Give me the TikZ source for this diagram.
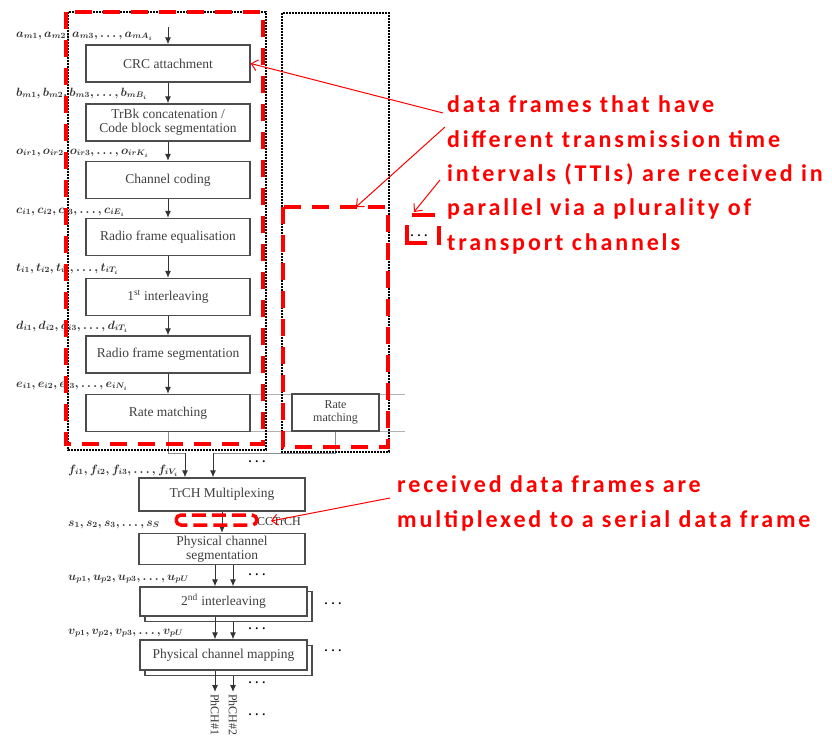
\documentclass[tikz,border=0pt]{standalone}
\usepackage{fontspec}
\usetikzlibrary{arrows.meta,calc}
\newfontfamily\annofont[LetterSpace=12]{Carlito}
\newfontfamily\boxfont{Liberation Serif}
\begin{document}
\begin{tikzpicture}[x=1pt,y=-1pt,
  blk/.style={draw=black!70, line width=1.3pt, fill=white, text=black!75,
    font=\boxfont\fontsize{13.5}{14}\selectfont, align=center, inner sep=0pt,
    minimum width=164pt, minimum height=37pt},
  lowblk/.style={blk, minimum width=166pt, minimum height=31pt},
  lbl/.style={anchor=base west, inner sep=0pt, text=black!80,
    font=\fontsize{12}{12}\selectfont\boldmath},
  arr/.style={draw=black!80, line width=1pt, -{Latex[length=7pt,width=6pt]}},
  conn/.style={draw=black!45, line width=0.8pt},
  dotsn/.style={inner sep=0pt, font=\boxfont\bfseries\fontsize{12}{12}\selectfont},
  phl/.style={rotate=-90, anchor=west, inner sep=0pt, text=black!80,
    font=\boxfont\fontsize{12}{12}\selectfont},
  dotbox/.style={draw=black, line width=2pt, dash pattern=on 1.6pt off 1.4pt},
  redbox/.style={draw=red, line width=4.5pt, dash pattern=on 17pt off 11pt},
  redseg/.style={draw=red, line width=4.5pt},
  redarr/.style={draw=red, line width=1pt, -{Straight Barb[length=6pt,width=11pt]}},
  anno/.style={anchor=base west, inner sep=0pt, text=red, align=left,
    font=\annofont\bfseries\fontsize{24}{34.3}\selectfont},
]
\useasboundingbox (0,0) rectangle (832,737);

% gray guide lines of right rate matching
\draw[draw=black!30, line width=0.6pt] (250,394) -- (405,394);
\draw[draw=black!30, line width=0.6pt] (250,431) -- (405,431);

% left chain boxes
\node[blk] (crc)  at (168,63.5)  {CRC attachment};
\node[blk] (trbk) at (168,122.5) {TrBk concatenation /\\Code block segmentation};
\node[blk] (chc)  at (168,180)   {Channel coding};
\node[blk] (rfe)  at (168,237)   {Radio frame equalisation};
\node[blk] (int1) at (168,297)   {1\textsuperscript{st} interleaving};
\node[blk] (rfs)  at (168,354.5) {Radio frame segmentation};
\node[blk] (rm1)  at (168,413)   {Rate matching};
\node[blk, minimum width=87pt, minimum height=37pt,
      font=\boxfont\fontsize{12}{13}\selectfont] (rm2) at (335.5,412.5) {Rate\\matching};

\coordinate (ain) at (168,27);
\draw[arr] (ain) -- (crc.north);
\draw[arr] (crc.south) -- (trbk.north);
\draw[arr] (trbk.south) -- (chc.north);
\draw[arr] (chc.south) -- (rfe.north);
\draw[arr] (rfe.south) -- (int1.north);
\draw[arr] (int1.south) -- (rfs.north);
\draw[arr] (rfs.south) -- (rm1.north);

% labels
\node[lbl] (la) at (16,37)  {$a_{m1},a_{m2},a_{m3},\ldots,a_{mA_i}$};
\node[lbl] (lb) at (16,96)  {$b_{m1},b_{m2},b_{m3},\ldots,b_{mB_i}$};
\node[lbl] (lo) at (16,154) {$o_{ir1},o_{ir2},o_{ir3},\ldots,o_{irK_i}$};
\node[lbl] (lc) at (16,213) {$c_{i1},c_{i2},c_{i3},\ldots,c_{iE_i}$};
\node[lbl] (lt) at (16,271) {$t_{i1},t_{i2},t_{i3},\ldots,t_{iT_i}$};
\node[lbl] (ld) at (16,329) {$d_{i1},d_{i2},d_{i3},\ldots,d_{iT_i}$};
\node[lbl] (le) at (16,387) {$e_{i1},e_{i2},e_{i3},\ldots,e_{iN_i}$};
\node[lbl] (lf) at (68,473) {$f_{i1},f_{i2},f_{i3},\ldots,f_{iV_i}$};
\node[lbl] (ls) at (68,526) {$s_{1},s_{2},s_{3},\ldots,s_{S}$};
\node[lbl] (lu) at (68,580) {$u_{p1},u_{p2},u_{p3},\ldots,u_{pU}$};
\node[lbl] (lv) at (68,634) {$v_{p1},v_{p2},v_{p3},\ldots,v_{pU}$};

% lower chain boxes
\node[lowblk, minimum height=33pt] (mux) at (222,494.5) {TrCH Multiplexing};
\node[lowblk] (pcs) at (222,549) {Physical channel\\segmentation};
\node[lowblk, minimum width=167pt, minimum height=30pt] (int2b) at (228.5,606.5) {};
\node[lowblk, minimum width=167pt, minimum height=29pt] (int2) at (223.5,601.5) {2\textsuperscript{nd} interleaving};
\node[lowblk, minimum width=167pt, minimum height=30pt] (pcmb) at (228.5,660.5) {};
\node[lowblk, minimum width=167pt, minimum height=30pt] (pcm) at (223.5,655) {Physical channel mapping};

% connections to multiplexing
\coordinate (j1) at (185,453);
\coordinate (j2) at (213,453);
\draw[conn] (rm1.south) |- (j1);
\draw[conn] (rm2.south) |- (j2);
\draw[arr] (j1) -- (j1 |- mux.north);
\draw[arr] (j2) -- (j2 |- mux.north);
\draw[arr] (mux.south) -- (pcs.north);

\coordinate (xa) at (215,0);
\coordinate (xb) at (233,0);
\draw[arr] (pcs.south -| xa) -- (int2.north -| xa);
\draw[arr] (pcs.south -| xb) -- (int2.north -| xb);
\draw[arr] (int2.south -| xa) -- (pcm.north -| xa);
\draw[arr] (int2b.south -| xb) -- (pcm.north -| xb);
\coordinate (o1) at (215,692);
\coordinate (o2) at (233,692);
\draw[arr] (pcm.south -| xa) -- (o1);
\draw[arr] (pcmb.south -| xb) -- (o2);
\node[phl] (ph1) at (215,694) {PhCH\#1};
\node[phl] (ph2) at (233,694) {PhCH\#2};

\node[anchor=east, inner sep=0pt, text=black!80,
      font=\boxfont\fontsize{12}{12}\selectfont] (cct) at (301,522) {CCTrCH};

% dots
\node[dotsn] (d1) at (257,462) {. . .};
\node[dotsn] (d2) at (257,575) {. . .};
\node[dotsn] (d3) at (333,604) {. . .};
\node[dotsn] (d4) at (257,629) {. . .};
\node[dotsn] (d5) at (333,651) {. . .};
\node[dotsn] (d6) at (257,683) {. . .};
\node[dotsn] (d7) at (257,715) {. . .};
\node[dotsn] (d8) at (419,236) {. . .};

% dotted and red dashed boxes
\draw[dotbox] (68,12) rectangle (266,450);
\draw[dotbox] (282,13) rectangle (389,452);
\draw[redbox] (66,12) rectangle (263,444);
\draw[redbox] (283,207) -- (283,447) -- (388,447) -- (388,207) -- cycle;
\draw[redbox, line width=3.5pt, dash pattern=on 14pt off 6pt, rounded corners=5pt] (176,515) rectangle (257,525);

% small red bracket near dots
\draw[redseg] (412,215) -- (435,215);
\draw[redseg] (407,225) -- (407,243) -- (427,243);
\draw[redseg] (439,226) -- (439,245);

% annotations (anchored at the baseline of the last line)
\node[anno] (t1) at (447,250) {data frames that have\\different transmission time\\intervals (TTIs) are received in\\parallel via a plurality of\\transport channels};
\node[anno] (t2) at (397,527) {received data frames are\\multiplexed to a serial data frame};

\coordinate (s1) at (443,113);
\coordinate (s2) at (445,127);
\coordinate (s3) at (440,180);
\coordinate (s4) at (390,498);
\coordinate (e2) at (356,207);
\coordinate (e3) at (414,212);
\coordinate (e4) at (271,521);
\draw[redarr] (s1) -- (crc.east);
\draw[redarr] (s2) -- (e2);
\draw[redarr] (s3) -- (e3);
\draw[redarr] (s4) -- (e4);
\end{tikzpicture}
\end{document}
